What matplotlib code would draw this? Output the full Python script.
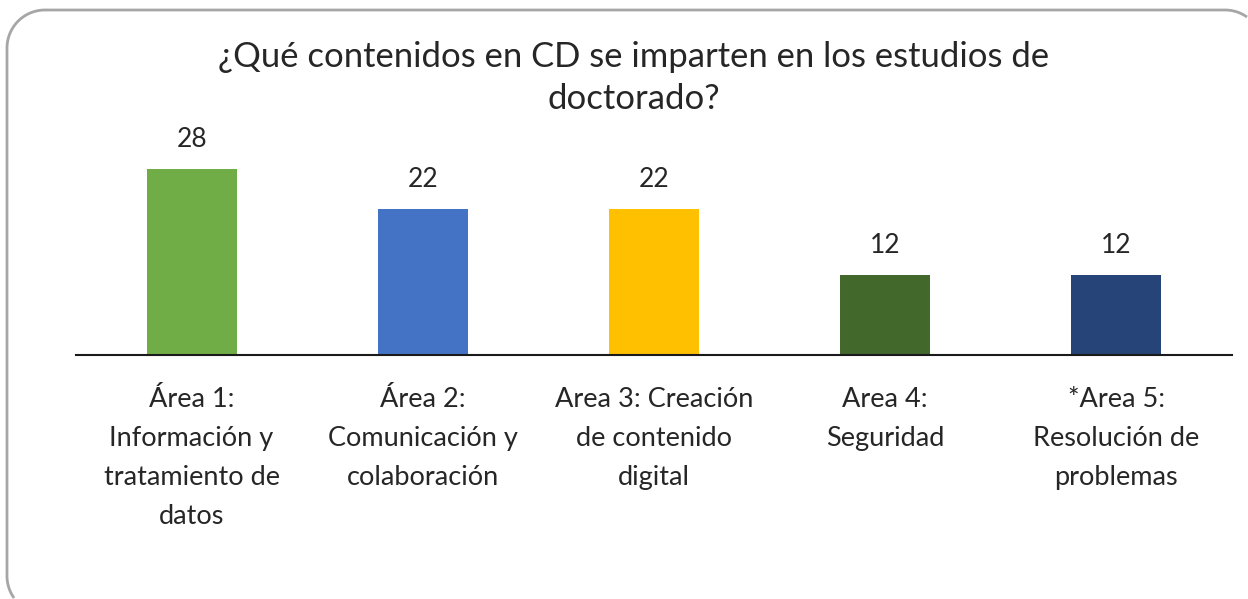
import numpy as np
import matplotlib.pyplot as plt
from matplotlib.lines import Line2D
from matplotlib.transforms import IdentityTransform

# data
categories = [
    "Área 1:\nInformación y\ntratamiento de\ndatos",
    "Área 2:\nComunicación y\ncolaboración",
    "Area 3: Creación\nde contenido\ndigital",
    "Area 4:\nSeguridad",
    "*Area 5:\nResolución de\nproblemas",
]
values = [28, 22, 22, 12, 12]
colors = ["#70AD47", "#4472C4", "#FFC000", "#43682B", "#264478"]

title = "¿Qué contenidos en CD se imparten en los estudios de\ndoctorado?"

plt.rcParams['font.family'] = ['Lato', 'DejaVu Sans']

W, H = 1248, 599
fig = plt.figure(figsize=(W / 100, H / 100), dpi=100)


def arc(cx, cy, r, a0, a1):
    t = np.radians(np.linspace(a0, a1, 30))
    return cx + r * np.cos(t), cy + r * np.sin(t)


# rounded chart border, pixel coords measured from the top; the box runs
# off the right and bottom edges, so only the part inside the canvas is traced
L, T, R, B, r = 7, 10, 1263, 614, 38
a_bl = np.degrees(np.arcsin((H - 1 - (B - r)) / r))          # where it leaves the bottom
a_tr = 360 - np.degrees(np.arccos((W - 1 - (R - r)) / r))    # where it leaves the right
xs, ys = [], []
bx, by = arc(L + r, B - r, r, 180 - a_bl, 180)
xs += list(bx); ys += list(by)
xs += [L, L]; ys += [B - r, T + r]
tx, ty = arc(L + r, T + r, r, 180, 270)
xs += list(tx); ys += list(ty)
xs += [R - r]; ys += [T]
cx_, cy_ = arc(R - r, T + r, r, 270, a_tr)
xs += list(cx_); ys += list(cy_)
xs = np.array(xs); ys = H - np.array(ys)
fig.add_artist(Line2D(xs, ys, transform=IdentityTransform(),
                      color="#a6a6a6", linewidth=2, solid_capstyle="butt"))

ax = fig.add_axes([76 / W, 1 - 354.5 / H, 1156 / W, 199 / H])
ax.patch.set_alpha(0)

x = range(len(values))
bars = ax.bar(x, values, width=0.39, color=colors, zorder=2)
for b, v in zip(bars, values):
    ax.text(b.get_x() + b.get_width() / 2, v + 2.55, str(v), ha="center",
            va="bottom", fontsize=19, color="#262626")

ax.set_xlim(-0.5, len(values) - 0.5)
ax.set_ylim(0, 30)
ax.set_xticks(list(x))
ax.set_xticklabels(categories, fontsize=19.5, color="#262626", linespacing=1.7)
ax.tick_params(axis="x", length=0, pad=23.5)
ax.set_yticks([])
for s in ["top", "right", "left"]:
    ax.spines[s].set_visible(False)
ax.spines["bottom"].set_linewidth(1.5)
ax.spines["bottom"].set_color("#1a1a1a")

fig.text(634 / W, 1 - 78 / H, title, ha="center", va="center",
         fontsize=24.9, color="#262626", linespacing=1.35)

fig.savefig("out.png", dpi=100)
